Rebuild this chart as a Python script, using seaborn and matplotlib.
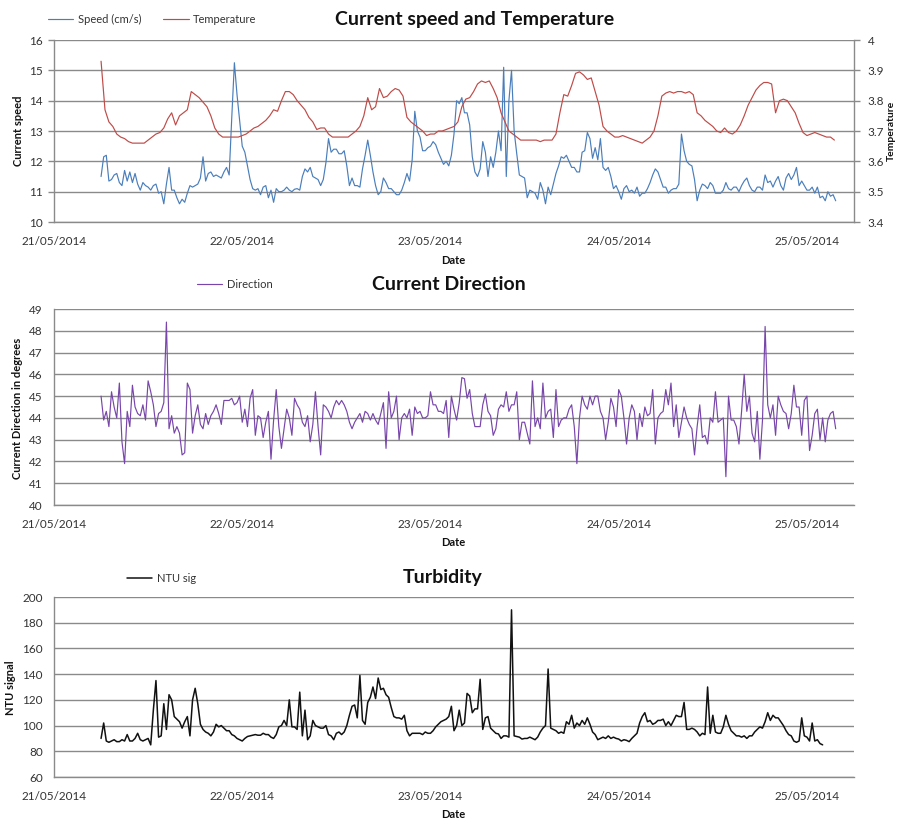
import numpy as np
import pandas as pd
import matplotlib
matplotlib.use("Agg")
import matplotlib.pyplot as plt
import matplotlib.dates as mdates
from matplotlib.ticker import FuncFormatter
import seaborn as sns

# ---------------------------------------------------------------- data
# current speed (cm/s), 20-minute samples from 21/05/2014 06:00
speed = [
    11.5, 12.15, 12.2, 11.35, 11.4, 11.55, 11.6, 11.3, 11.2, 11.7,
    11.35, 11.65, 11.3, 11.6, 11.25, 11.05, 11.3, 11.2, 11.15, 11.05,
    11.2, 11.25, 10.95, 11.0, 10.6, 11.25, 11.8, 11.05, 11.05, 10.8,
    10.6, 10.75, 10.65, 10.95, 11.2, 11.15, 11.2, 11.25, 11.45, 12.15,
    11.35, 11.6, 11.65, 11.5, 11.55, 11.5, 11.45, 11.65, 11.8, 11.55,
    13.45, 15.25, 14.2, 13.35, 12.5, 12.3, 11.85, 11.4, 11.1, 11.05,
    11.1, 10.9, 11.15, 11.2, 10.8, 11.05, 10.65, 11.1, 11.0, 11.0,
    11.05, 11.15, 11.05, 11.0,
    11.08, 11.1, 11.05, 11.5, 11.75, 11.65, 11.8, 11.5, 11.45, 11.4,
    11.2, 11.4, 11.95, 12.75, 12.3, 12.4, 12.4, 12.25, 12.25, 12.35,
    11.85, 11.2, 11.45, 11.2, 11.2, 11.15, 11.75, 12.2, 12.7, 12.2,
    11.65, 11.2, 10.9, 11.0, 11.45, 11.3, 11.1, 11.1, 11.0, 10.9,
    10.9, 11.05, 11.3, 11.6, 11.35, 12.05, 13.65, 13.0, 12.8, 12.35,
    12.35, 12.45, 12.5, 12.65, 12.55, 12.3, 12.1, 11.9, 12.0, 11.85,
    12.2, 12.9, 14.0, 13.9, 14.1, 13.6, 13.6, 13.2, 12.15, 11.65,
    11.5, 11.75, 12.65, 12.3, 11.5,
    12.15, 11.8, 12.3, 13.0, 12.35, 15.1, 11.5, 14.0, 15.0, 13.0,
    12.25, 11.55, 11.5, 11.45, 10.8, 11.05, 11.0, 10.95, 10.75, 11.3,
    11.05, 10.6, 11.15, 10.9, 11.25, 11.6, 11.85, 12.15, 12.1, 12.2,
    12.0, 11.8, 11.8, 11.65, 11.65, 12.3, 12.35, 12.95, 12.75, 12.1,
    12.45, 12.05, 12.75, 11.8, 11.7, 11.8, 11.5, 11.1, 11.2, 11.0,
    10.75, 11.1, 11.2, 11.0, 11.05, 10.95, 11.15, 10.85, 10.95, 10.95,
    11.1, 11.3, 11.55, 11.75, 11.65, 11.4, 11.15, 11.15, 10.95, 11.05,
    11.1, 11.1, 11.25,
    12.9, 12.35, 12.0, 11.9, 11.85, 11.4, 10.7, 11.05, 11.25, 11.2,
    11.1, 11.3, 11.2, 10.95, 10.95, 10.95, 11.05, 11.3, 11.1, 11.05,
    11.15, 11.15, 11.0, 11.2, 11.35, 11.45, 11.2, 11.05, 11.0, 11.15,
    11.15, 11.05, 11.55, 11.3, 11.35, 11.15, 11.35, 11.5, 11.2, 11.05,
    11.45, 11.6, 11.4, 11.55, 11.8, 11.2, 11.35, 11.2, 11.05, 11.05,
    11.15, 10.95, 11.15, 10.8, 10.85, 10.7, 11.0, 10.85, 10.9, 10.7,
]

# water temperature, 30-minute samples from 21/05/2014 06:00
temperature = [
    3.93, 3.77, 3.73, 3.715, 3.69, 3.68, 3.675, 3.665, 3.66, 3.66, 3.66, 3.66,
    3.67, 3.68, 3.69, 3.695, 3.71, 3.74, 3.76, 3.72, 3.75, 3.76, 3.77, 3.83,
    3.82, 3.81, 3.795, 3.78, 3.75, 3.71, 3.69, 3.68, 3.68, 3.68, 3.68, 3.68,
    3.685, 3.69, 3.70, 3.71, 3.715, 3.725, 3.735, 3.75, 3.77, 3.765, 3.80, 3.83,
    3.83, 3.82, 3.80, 3.785, 3.77, 3.745, 3.73, 3.705, 3.71, 3.71, 3.69, 3.68,
    3.68, 3.68, 3.68, 3.68, 3.69, 3.70, 3.715, 3.75, 3.81, 3.77, 3.78, 3.84,
    3.81, 3.815, 3.83, 3.84, 3.835, 3.815, 3.745, 3.73, 3.72, 3.71, 3.70, 3.685,
    3.69, 3.69, 3.70, 3.70, 3.705, 3.71, 3.715, 3.73, 3.78, 3.805, 3.81, 3.83,
    3.855, 3.865, 3.86, 3.865, 3.84, 3.81, 3.76, 3.73, 3.70, 3.69, 3.68, 3.67,
    3.67, 3.67, 3.67, 3.67, 3.665, 3.67, 3.67, 3.67, 3.69, 3.76, 3.82, 3.815,
    3.85, 3.89, 3.895, 3.885, 3.87, 3.875, 3.83, 3.785, 3.715, 3.70, 3.69, 3.68,
    3.68, 3.685, 3.68, 3.675, 3.67, 3.665, 3.66, 3.67, 3.68, 3.70, 3.75, 3.815,
    3.825, 3.83, 3.825, 3.83, 3.83, 3.825, 3.83, 3.82, 3.76, 3.75, 3.735, 3.725,
    3.715, 3.70, 3.695, 3.71, 3.695, 3.69, 3.70, 3.72, 3.75, 3.785, 3.81, 3.835,
    3.85, 3.86, 3.86, 3.855, 3.76, 3.80, 3.805, 3.80, 3.78, 3.76, 3.725, 3.695,
    3.685, 3.69, 3.695, 3.69, 3.685, 3.68, 3.68, 3.67,
]

# current direction (degrees), 20-minute samples from 21/05/2014 06:00
direction = [
    45.0, 43.9, 44.3, 43.6, 45.2, 44.5, 44.0, 45.6, 42.9, 41.9,
    44.3, 43.6, 45.5, 44.5, 44.2, 44.1, 44.6, 43.9, 45.7, 45.2,
    44.6, 43.6, 44.2, 44.3, 44.7, 48.4, 43.5, 44.1, 43.3, 43.6,
    43.3, 42.3, 42.4, 45.6, 45.3, 43.3, 44.1, 44.6, 43.7, 43.5,
    44.2, 43.7, 44.1, 44.3, 44.6, 44.2, 43.7, 44.8, 44.8, 44.8,
    44.9, 44.6, 44.7, 45.0, 43.8, 44.4, 43.6, 44.9, 45.3, 43.2,
    44.1, 44.0, 43.1, 43.8, 44.3, 42.1, 43.9, 45.3, 43.6, 42.6,
    43.5, 44.4, 44.0, 43.2, 44.9, 44.6, 44.4, 43.8, 43.6, 44.1,
    42.9, 43.7, 45.2, 43.6, 42.3, 44.6, 44.5, 44.3, 44.0, 44.5,
    44.8, 44.6, 44.8, 44.6, 44.3, 43.8, 43.5, 43.8, 44.0, 44.2,
    43.8, 44.3, 44.2, 43.9, 44.2, 43.9, 43.7, 44.2, 44.7, 42.6,
    45.2, 44.0, 44.3, 45.0, 43.0, 44.0, 44.2, 44.0, 44.4, 43.2,
    44.5, 44.2, 44.3, 44.0, 44.0, 44.1, 45.2, 44.6, 44.6, 44.3,
    44.3, 44.2, 44.8, 43.1, 45.0, 44.4, 43.9, 44.7, 45.85, 45.8,
    44.9, 45.3, 44.2, 43.6, 43.6, 43.6, 44.6, 45.1, 44.3, 44.1,
    43.2, 43.5, 44.4, 44.6, 44.5, 45.2, 44.3, 44.6, 44.6, 45.2,
    43.0, 43.8, 43.8, 43.3, 42.8, 45.7, 43.6, 44.0, 43.5, 45.6,
    44.0, 44.3, 44.4, 43.1, 45.3, 43.6, 43.9, 44.0, 44.0, 44.4,
    44.6, 43.6, 41.9, 44.0, 45.0, 44.6, 44.4, 45.0, 44.6, 45.0,
    45.0, 44.3, 44.0, 43.0, 43.8, 44.9, 44.5, 43.6, 45.3, 45.0,
    44.0, 42.8, 44.0, 44.6, 44.3, 43.0, 44.2, 43.6, 44.5, 44.1,
    44.2, 45.3, 42.8, 44.0, 44.2, 44.3, 45.3, 44.6, 45.6, 43.6,
    44.6, 43.1, 43.8, 44.5, 44.0, 43.7, 43.5, 42.3, 43.6, 44.6,
    43.1, 43.2, 42.8, 44.0, 43.8, 45.2, 43.8, 43.9, 44.0, 41.3,
    45.0, 43.9, 43.9, 43.6, 42.8, 44.3, 46.0, 44.3, 45.0, 43.3,
    42.9, 44.3, 42.1, 43.9, 48.2, 44.6, 44.0, 44.6, 43.2, 45.0,
    44.6, 44.3, 44.2, 43.5, 44.2, 45.5, 44.5, 44.5, 43.2, 44.8,
    45.0, 42.5, 43.2, 44.2, 44.4, 43.0, 44.0, 42.9, 43.9, 44.2,
    44.3, 43.5,
]

# turbidity signal (NTU), 20-minute samples from 21/05/2014 06:00
ntu = [
    90, 102, 88, 87, 88, 89, 87.5, 87.5, 89, 88,
    93, 88, 88, 90, 94, 89, 88, 89, 90, 85,
    112, 135, 91, 92, 117, 97, 124, 120, 107, 105,
    103, 98, 103, 107, 92, 120, 129, 117, 101, 97,
    95, 94, 92, 95, 101, 99, 100, 98, 96, 96,
    93, 92, 90, 89, 88, 90, 91.5, 92, 92.5, 93,
    92.5, 92.5, 94, 93, 93, 91, 90, 93, 99, 100,
    104, 100, 120, 99, 99, 97, 126, 92, 112, 89,
    92, 104, 100, 99, 98, 98, 100, 93, 92, 89,
    94, 95, 93, 95, 100, 108, 115, 116, 106, 139,
    104, 101, 118, 122, 130, 121, 137, 128, 129, 124,
    122, 114, 107, 106, 106, 105, 108, 96, 92, 94,
    94, 94, 94, 93, 95, 94, 94, 96, 99, 101,
    103, 104, 105, 107, 115, 96, 100, 112, 100, 102,
    125, 123, 110, 113, 113, 136, 97, 106, 107, 98,
    96, 94, 93.5, 90, 92, 92, 91, 190, 92, 91.5,
    91, 89.5, 90, 90, 91, 90, 89, 91, 95, 98,
    100, 144, 98, 97, 96, 94, 95, 94, 103, 101,
    108, 98, 102, 100, 104, 101, 106, 101, 95, 93,
    89, 90, 91, 90, 92, 90, 91, 90, 89.5, 88,
    89, 88.5, 87.5, 90, 92, 94, 102, 107, 110, 103,
    104, 101, 102, 104, 104, 105, 100, 103, 100, 104,
    108, 107, 107, 118, 97, 97, 98, 97, 95, 92,
    94, 93, 130, 94, 108, 95, 94, 94, 99, 108,
    101, 96, 94, 92, 92, 91, 92, 90, 92, 92,
    95, 97, 99, 98, 103, 110, 104, 108, 106, 106,
    103, 100, 96, 93, 92, 88, 87, 88, 106, 92,
    91, 88, 102, 88, 89, 86, 85,
]

series_start = "2014-05-21 06:00"

speed_df = pd.DataFrame({
    "time": pd.date_range(series_start, periods=len(speed), freq="20min"),
    "speed": speed})
temp_df = pd.DataFrame({
    "time": pd.date_range(series_start, periods=len(temperature), freq="30min"),
    "temperature": temperature})
dir_df = pd.DataFrame({
    "time": pd.date_range(series_start, periods=len(direction), freq="20min"),
    "direction": direction})
ntu_df = pd.DataFrame({
    "time": pd.date_range(series_start, periods=len(ntu), freq="20min"),
    "ntu": ntu})

# ---------------------------------------------------------------- style
sns.set_style("white")
plt.rcParams["font.family"] = ["Lato", "DejaVu Sans"]

W, H = 898, 823
GRID = "#8a8a8a"
TXT = "#333333"
C_SPEED = "#4a7ebb"
C_TEMP = "#be4b48"
C_DIR = "#7846aa"
C_NTU = "#111111"

fig = plt.figure(figsize=(W / 100, H / 100), dpi=100)
fig.patch.set_facecolor("white")


def box(left, top, right, bottom):
    return [left / W, 1 - bottom / H, (right - left) / W, (bottom - top) / H]


def fx(x):
    return x / W


def fy(y):
    return 1 - y / H


def style_axes(ax, lo, hi, step):
    ax.set_xlim(pd.Timestamp("2014-05-21 00:00"), pd.Timestamp("2014-05-25 06:00"))
    ax.set_ylim(lo, hi)
    ax.set_yticks(np.arange(lo, hi + step / 2, step))
    ax.yaxis.set_major_formatter(FuncFormatter(lambda v, p: f"{v:g}"))
    ax.xaxis.set_major_locator(mdates.DayLocator())
    ax.xaxis.set_major_formatter(mdates.DateFormatter("%d/%m/%Y"))
    ax.grid(False)
    ax.grid(axis="y", color=GRID, lw=1.0)
    ax.set_axisbelow(True)
    for s in ("top", "right"):
        ax.spines[s].set_visible(False)
    for s in ("left", "bottom"):
        ax.spines[s].set_color(GRID)
        ax.spines[s].set_linewidth(1.0)
    ax.tick_params(axis="both", direction="out", length=4, width=1.0,
                   color=GRID, labelsize=8.5, labelcolor=TXT)
    ax.tick_params(axis="x", pad=6)
    ax.tick_params(axis="y", pad=4)
    ax.set_xlabel("")
    ax.set_ylabel("")


ax1 = fig.add_axes(box(54, 40, 854, 222))
ax2 = fig.add_axes(box(54, 309, 854, 505))
ax3 = fig.add_axes(box(54, 597, 854, 777))

# ---------------------------------------------------------------- panel 1
sns.lineplot(data=speed_df, x="time", y="speed", ax=ax1, color=C_SPEED,
             lw=0.85, estimator=None, legend=False)
style_axes(ax1, 10, 16, 1)

ax1t = ax1.twinx()
sns.lineplot(data=temp_df, x="time", y="temperature", ax=ax1t, color=C_TEMP,
             lw=0.85, estimator=None, legend=False)
ax1t.set_ylim(3.4, 4.0)
ax1t.set_yticks(np.round(np.arange(3.4, 4.05, 0.1), 1))
ax1t.yaxis.set_major_formatter(FuncFormatter(lambda v, p: f"{v:g}"))
ax1t.grid(False)
for s in ("top", "left", "bottom"):
    ax1t.spines[s].set_visible(False)
ax1t.spines["right"].set_color(GRID)
ax1t.spines["right"].set_linewidth(1.0)
ax1t.tick_params(axis="y", direction="out", length=4, width=1.0, color=GRID,
                 labelsize=8.5, labelcolor=TXT, pad=6)
ax1t.set_ylabel("")

fig.legend(handles=[ax1.lines[0], ax1t.lines[0]],
           labels=["Speed (cm/s)", "Temperature"],
           loc="center left", bbox_to_anchor=(fx(42), fy(19)), ncol=2,
           frameon=False, fontsize=8, handlelength=2.3, handletextpad=0.4,
           columnspacing=2.0, borderpad=0, labelcolor=TXT)
fig.text(fx(475), fy(19), "Current speed and Temperature", ha="center",
         va="center", fontsize=14, fontweight="bold", color="#111111")
fig.text(fx(18), fy(131), "Current speed", rotation=90, ha="center",
         va="center", fontsize=8, fontweight="bold", color="#111111")
fig.text(fx(887), fy(131), "Temperature", rotation=90, ha="left",
         va="center", fontsize=7.5, fontweight="bold", color="#111111")
fig.text(fx(453), fy(261), "Date", ha="center", va="center", fontsize=8,
         fontweight="bold", color="#111111")

# ---------------------------------------------------------------- panel 2
sns.lineplot(data=dir_df, x="time", y="direction", ax=ax2, color=C_DIR,
             lw=0.85, estimator=None, legend=False)
style_axes(ax2, 40, 49, 1)
fig.legend(handles=[ax2.lines[0]], labels=["Direction"],
           loc="center left", bbox_to_anchor=(fx(191), fy(284)),
           frameon=False, fontsize=8, handlelength=2.3, handletextpad=0.4,
           borderpad=0, labelcolor=TXT)
fig.text(fx(449), fy(284), "Current Direction", ha="center", va="center",
         fontsize=14, fontweight="bold", color="#111111")
fig.text(fx(18), fy(408), "Current Direction in degrees", rotation=90,
         ha="center", va="center", fontsize=8, fontweight="bold",
         color="#111111")
fig.text(fx(453), fy(543), "Date", ha="center", va="center", fontsize=8,
         fontweight="bold", color="#111111")

# ---------------------------------------------------------------- panel 3
sns.lineplot(data=ntu_df, x="time", y="ntu", ax=ax3, color=C_NTU,
             lw=1.1, estimator=None, legend=False)
style_axes(ax3, 60, 200, 20)
fig.legend(handles=[ax3.lines[0]], labels=["NTU sig"],
           loc="center left", bbox_to_anchor=(fx(121), fy(578)),
           frameon=False, fontsize=8, handlelength=2.3, handletextpad=0.4,
           borderpad=0, labelcolor=TXT)
fig.text(fx(443), fy(577), "Turbidity", ha="center", va="center",
         fontsize=14, fontweight="bold", color="#111111")
fig.text(fx(11), fy(688), "NTU signal", rotation=90, ha="center",
         va="center", fontsize=8, fontweight="bold", color="#111111")
fig.text(fx(453), fy(815), "Date", ha="center", va="center", fontsize=8,
         fontweight="bold", color="#111111")

fig.savefig("out.png", dpi=100, facecolor="white")
